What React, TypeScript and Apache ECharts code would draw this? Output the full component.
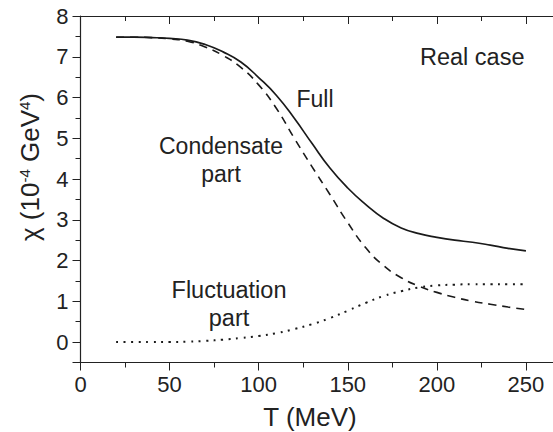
import React, { useEffect, useRef } from "react";
import * as echarts from "echarts";

// Temperature grid (MeV)
const temperatures = [20, 30, 40, 50, 60, 70, 80, 90, 100, 110, 120, 130, 140, 150, 160, 170, 180, 190, 200, 210, 220, 230, 240, 250];
// Susceptibility χ in units of 10^-4 GeV^4
const fullChi = [7.48, 7.48, 7.47, 7.45, 7.41, 7.30, 7.12, 6.87, 6.49, 6.05, 5.49, 4.87, 4.27, 3.78, 3.38, 3.04, 2.80, 2.66, 2.57, 2.50, 2.45, 2.38, 2.30, 2.24];
const condensateChi = [7.48, 7.48, 7.47, 7.44, 7.38, 7.24, 7.03, 6.74, 6.31, 5.73, 5.00, 4.30, 3.62, 2.93, 2.32, 1.88, 1.58, 1.37, 1.22, 1.10, 1.00, 0.93, 0.86, 0.80];
const fluctuationChi = [0.0, 0.0, 0.0, 0.0, 0.01, 0.03, 0.06, 0.10, 0.15, 0.22, 0.32, 0.44, 0.59, 0.77, 0.96, 1.13, 1.25, 1.34, 1.39, 1.41, 1.42, 1.42, 1.42, 1.42];

const FONT = "'Liberation Sans', Arial, Helvetica, sans-serif";
const INK = "#222";

const pairs = (ys: number[]) => temperatures.map((t, i) => [t, ys[i]]);

export default function App() {
  const ref = useRef<HTMLDivElement>(null);

  useEffect(() => {
    if (!ref.current) return;
    const chart = echarts.init(ref.current, undefined, { renderer: "svg" });

    const axisLine = { show: true, lineStyle: { color: INK, width: 1.2 } };
    const lineBase = { color: INK };

    chart.setOption({
      animation: false,
      backgroundColor: "#fff",
      // plot area runs past the right edge of the canvas (x up to 300 MeV)
      grid: { left: 80.5, right: -62, top: 16, bottom: 69.5, containLabel: false, outerBoundsMode: "none" },
      xAxis: [
        {
          type: "value",
          position: "bottom",
          min: 0,
          max: 300,
          interval: 50,
          axisLine: { ...axisLine, onZero: false },
          axisTick: { show: true, inside: false, length: 8, lineStyle: lineBase },
          minorTick: { show: true, splitNumber: 2, length: 5, lineStyle: lineBase },
          axisLabel: {
            show: true,
            margin: 11,
            fontSize: 22,
            color: INK,
            fontFamily: FONT,
            formatter: (v: number) => (v <= 250 ? String(v) : ""),
          },
          splitLine: { show: false },
        },
        {
          type: "value",
          position: "top",
          min: 0,
          max: 300,
          interval: 50,
          axisLine: { ...axisLine, onZero: false },
          axisTick: { show: true, inside: true, length: 8, lineStyle: lineBase },
          minorTick: { show: true, splitNumber: 2, length: 5, lineStyle: lineBase },
          axisLabel: { show: false },
          splitLine: { show: false },
        },
      ],
      yAxis: [
        {
          type: "value",
          position: "left",
          min: -0.5,
          max: 8,
          splitNumber: 8,
          axisLine: { ...axisLine, onZero: false },
          axisTick: { show: true, inside: false, length: 8, lineStyle: lineBase },
          axisLabel: {
            show: true,
            margin: 12,
            fontSize: 22,
            color: INK,
            fontFamily: FONT,
            formatter: (v: number) => (Number.isInteger(v) ? String(v) : ""),
          },
          splitLine: { show: false },
        },
        {
          // half-unit ticks
          type: "value",
          position: "left",
          min: -0.5,
          max: 8,
          interval: 0.5,
          axisLine: { show: false },
          axisTick: { show: true, inside: false, length: 5, lineStyle: lineBase },
          axisLabel: { show: false },
          splitLine: { show: false },
        },
      ],
      series: [
        {
          name: "Full",
          type: "line",
          data: pairs(fullChi),
          showSymbol: false,
          smooth: 0.5,
          lineStyle: { color: "#1a1a1a", width: 1.7, type: "solid" },
          z: 3,
        },
        {
          name: "Condensate part",
          type: "line",
          data: pairs(condensateChi),
          showSymbol: false,
          smooth: 0.5,
          lineStyle: { color: "#1a1a1a", width: 1.6, type: [8, 6] },
          z: 3,
        },
        {
          name: "Fluctuation part",
          type: "line",
          data: pairs(fluctuationChi),
          showSymbol: false,
          smooth: 0.5,
          lineStyle: { color: "#1a1a1a", width: 2, type: [2, 5.5] },
          z: 3,
        },
      ],
      graphic: [
        {
          type: "text",
          x: 420,
          y: 57,
          style: { text: "Real case", font: `23.5px ${FONT}`, fill: INK, verticalAlign: "middle", align: "left" },
        },
        {
          type: "text",
          x: 315,
          y: 99,
          style: { text: "Full", font: `23px ${FONT}`, fill: INK, verticalAlign: "middle", align: "center" },
        },
        {
          type: "text",
          x: 221,
          y: 160,
          style: {
            text: "Condensate\npart",
            font: `23px ${FONT}`,
            lineHeight: 28,
            fill: INK,
            verticalAlign: "middle",
            align: "center",
          },
        },
        {
          type: "text",
          x: 229,
          y: 304,
          style: {
            text: "Fluctuation\npart",
            font: `23.5px ${FONT}`,
            lineHeight: 28,
            fill: INK,
            verticalAlign: "middle",
            align: "center",
          },
        },
        {
          type: "text",
          x: 310,
          y: 417,
          style: { text: "T (MeV)", font: `26px ${FONT}`, fill: INK, verticalAlign: "middle", align: "center" },
        },
        {
          type: "text",
          x: 30,
          y: 167,
          rotation: Math.PI / 2,
          style: {
            text: "{a|χ (10}{s|-4}{a| GeV}{s|4}{a|)}",
            fill: INK,
            verticalAlign: "middle",
            align: "center",
            rich: {
              a: { fontSize: 26, fontFamily: FONT, fill: INK },
              s: { fontSize: 15, fontFamily: FONT, fill: INK, verticalAlign: "top" },
            },
          },
        },
      ],
    });

    return () => chart.dispose();
  }, []);

  return (
    <div
      ref={ref}
      style={{ position: "absolute", left: 0, top: 0, width: 553, height: 432, background: "#fff" }}
    />
  );
}
